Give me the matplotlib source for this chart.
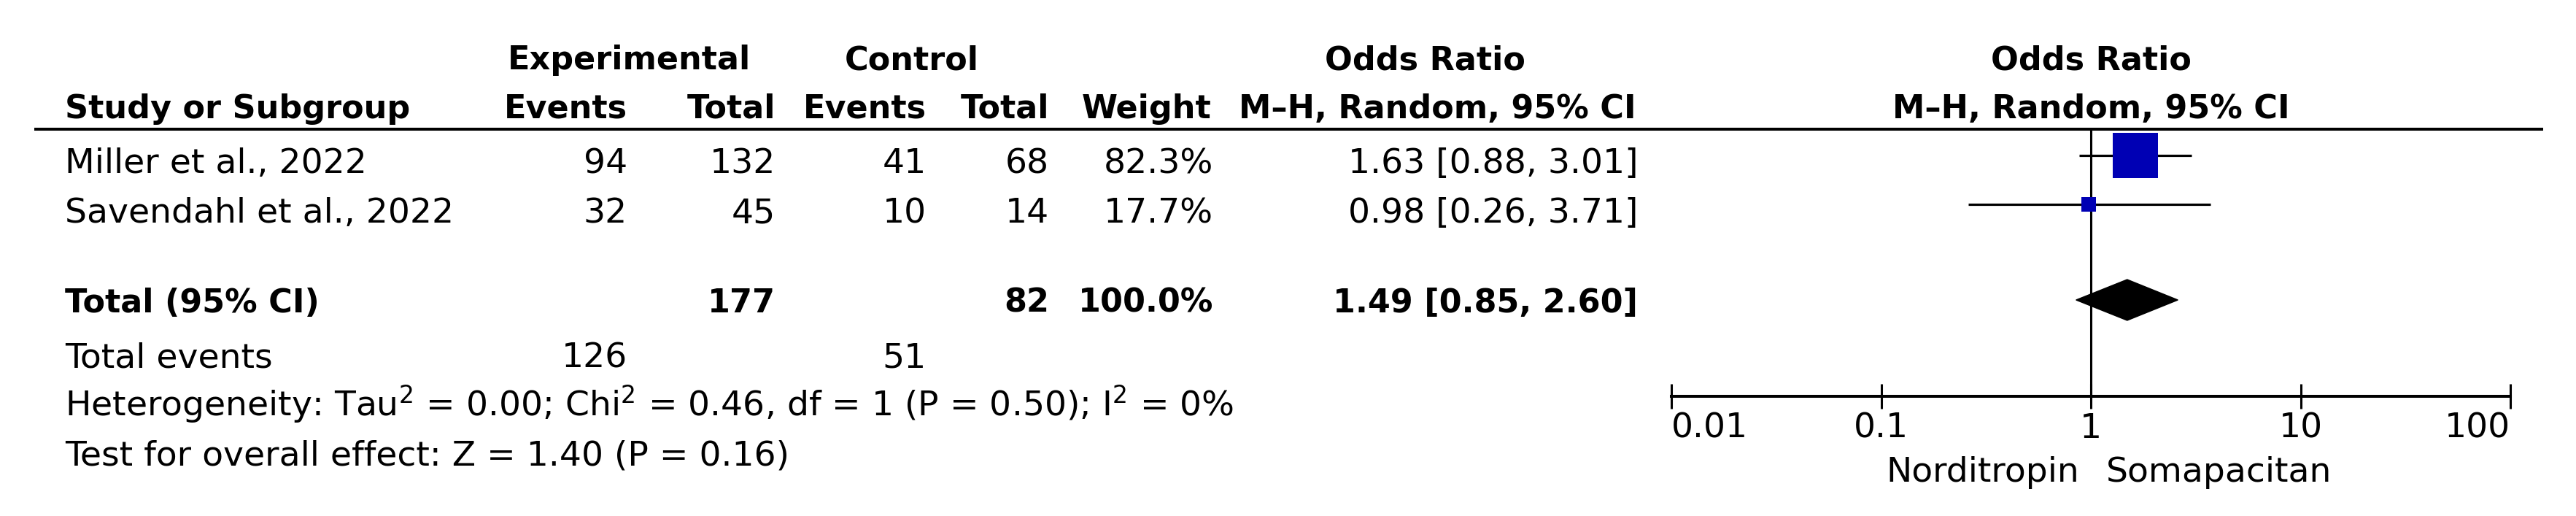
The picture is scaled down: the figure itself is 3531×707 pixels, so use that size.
import matplotlib
matplotlib.use('Agg')
import matplotlib.pyplot as plt
from matplotlib.patches import Polygon

# study data
studies = ['Miller et al., 2022', 'Savendahl et al., 2022']
exp_events = [94, 32]
exp_total = [132, 45]
ctl_events = [41, 10]
ctl_total = [68, 14]
weights = [82.3, 17.7]
odds = [1.63, 0.98]
ci_low = [0.88, 0.26]
ci_high = [3.01, 3.71]

# pooled result
pooled_exp_total = 177
pooled_ctl_total = 82
pooled_or = 1.49
pooled_low = 0.85
pooled_high = 2.60
events_exp = 126
events_ctl = 51
het_text = r'Heterogeneity: Tau$^2$ = 0.00; Chi$^2$ = 0.46, df = 1 (P = 0.50); I$^2$ = 0%'
effect_text = 'Test for overall effect: Z = 1.40 (P = 0.16)'

ticks = [0.01, 0.1, 1, 10, 100]
tick_labels = ['0.01', '0.1', '1', '10', '100']
left_label = 'Norditropin'
right_label = 'Somapacitan'

W, H = 3531, 707
plt.rcParams['font.family'] = ['DejaVu Sans']
plt.rcParams['mathtext.fontset'] = 'dejavusans'
plt.rcParams['mathtext.default'] = 'regular'
fig = plt.figure(figsize=(W / 100, H / 100), dpi=100)

# background axes in pixel units (y down)
ax = fig.add_axes([0, 0, 1, 1])
ax.set_xlim(0, W)
ax.set_ylim(H, 0)
ax.axis('off')

fs = 34
fsb = 32
blue = '#0000b4'

# column right edges
c_ee, c_et, c_ce, c_ct, c_w, c_or = 860, 1063, 1270, 1438, 1663, 2245
y_h1, y_h2 = 95, 162
row_base = [237, 305]
y_tot, y_ev, y_het, y_eff = 428, 503, 570, 637

def t(x, y, s, ha='right', bold=False):
    ax.text(x, y, s, ha=ha, va='baseline', fontsize=fsb if bold else fs,
            fontweight='bold' if bold else 'normal')

# headers
t(862, y_h1, 'Experimental', ha='center', bold=True)
t(1250, y_h1, 'Control', ha='center', bold=True)
t(1953, y_h1, 'Odds Ratio', ha='center', bold=True)
t(89, y_h2, 'Study or Subgroup', ha='left', bold=True)
t(c_ee, y_h2, 'Events', bold=True)
t(c_et, y_h2, 'Total', bold=True)
t(c_ce, y_h2, 'Events', bold=True)
t(c_ct, y_h2, 'Total', bold=True)
t(c_w - 3, y_h2, 'Weight', bold=True)
t(c_or - 2, y_h2, 'M–H, Random, 95% CI', bold=True)
ax.plot([47, 3486], [177, 177], color='black', lw=2.9, solid_capstyle='butt')

# study rows
for i, name in enumerate(studies):
    y = row_base[i]
    t(89, y, name, ha='left')
    t(c_ee, y, str(exp_events[i]))
    t(c_et, y, str(exp_total[i]))
    t(c_ce, y, str(ctl_events[i]))
    t(c_ct, y, str(ctl_total[i]))
    t(c_w, y, '%.1f%%' % weights[i])
    t(c_or, y, '%.2f [%.2f, %.2f]' % (odds[i], ci_low[i], ci_high[i]))

# totals
t(89, y_tot, 'Total (95% CI)', ha='left', bold=True)
t(c_et, y_tot, str(pooled_exp_total), bold=True)
t(c_ct, y_tot, str(pooled_ctl_total), bold=True)
t(c_w, y_tot, '%.1f%%' % sum(weights), bold=True)
t(c_or, y_tot, '%.2f [%.2f, %.2f]' % (pooled_or, pooled_low, pooled_high), bold=True)
t(89, y_ev, 'Total events', ha='left')
t(c_ee, y_ev, str(events_exp))
t(c_ce, y_ev, str(events_ctl))
t(89, y_het, het_text, ha='left')
t(89, y_eff, effect_text, ha='left')

# forest plot axes: x log scale, y in same pixel units
x0, x1 = 2291, 3441
y_top, y_axis = 177, 543
ax2 = fig.add_axes([x0 / W, (H - y_axis) / H, (x1 - x0) / W, (y_axis - y_top) / H])
ax2.set_xscale('log')
ax2.set_xlim(ticks[0], ticks[-1])
ax2.set_ylim(y_axis, y_top)
ax2.patch.set_visible(False)
for s in ['top', 'left', 'right']:
    ax2.spines[s].set_visible(False)
ax2.spines['bottom'].set_linewidth(2.9)
ax2.set_yticks([])
ax2.minorticks_off()
ax2.set_xticks(ticks)
ax2.set_xticklabels(tick_labels, fontsize=fs)
ax2.tick_params(axis='x', direction='inout', length=24, width=2.2, pad=3.5)
labs = ax2.get_xticklabels()
labs[0].set_ha('left')
labs[-1].set_ha('right')

ax2.axvline(1, color='black', lw=2.2, zorder=1)

forest_y = [213, 280]
for i in range(len(studies)):
    y = forest_y[i]
    ax2.plot([ci_low[i], ci_high[i]], [y, y], color='black', lw=2.3, zorder=2,
             solid_capstyle='butt')
    side = 2.27 * weights[i] ** 0.75 * 0.72
    ax2.plot([odds[i]], [y], marker='s', markersize=side, color=blue,
             markeredgewidth=0, zorder=3)

dy = 411
ax2.add_patch(Polygon([(pooled_low, dy), (pooled_or, dy - 28), (pooled_high, dy),
                       (pooled_or, dy + 28)], closed=True, color='black', zorder=3))

ax2.text(1, y_h1, 'Odds Ratio', ha='center', va='baseline', fontsize=fsb,
         fontweight='bold', clip_on=False)
ax2.text(1, y_h2, 'M–H, Random, 95% CI', ha='center', va='baseline', fontsize=fsb,
         fontweight='bold', clip_on=False)

t(2850, 660, left_label)
t(2887, 660, right_label, ha='left')

fig.savefig('out.png', dpi=100, facecolor='white')
